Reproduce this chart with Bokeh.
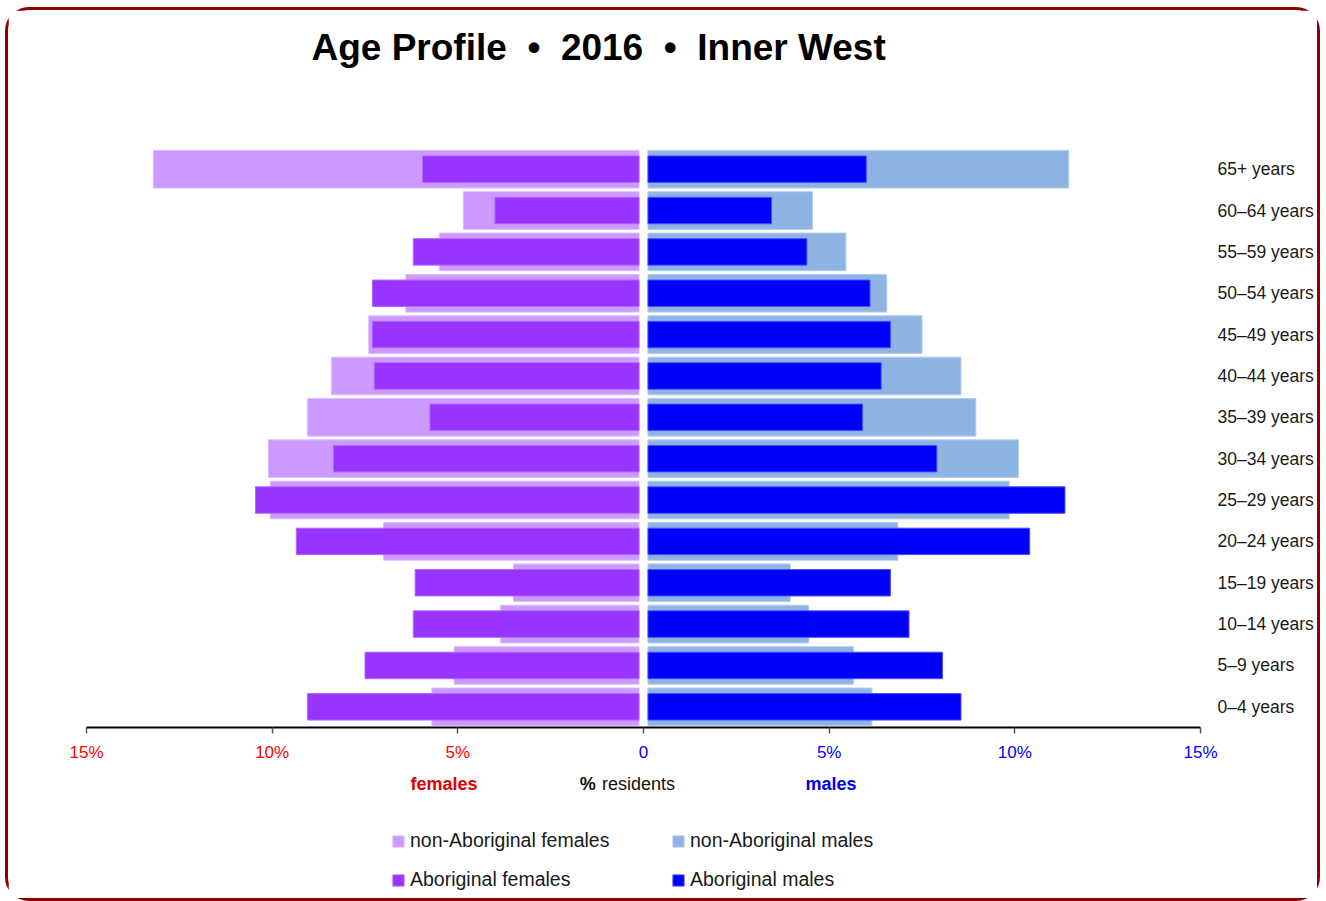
from bokeh.plotting import figure
from bokeh.layouts import column
from bokeh.models import (FactorRange, Range1d, LinearAxis, FixedTicker,
                          Legend, LegendItem, Title)
from bokeh.core.properties import value
from bokeh.embed import file_html
from bokeh.resources import INLINE

# ---------------- data (top row first) ----------------
ages = ["65+ years", "60–64 years", "55–59 years", "50–54 years", "45–49 years",
        "40–44 years", "35–39 years", "30–34 years", "25–29 years", "20–24 years",
        "15–19 years", "10–14 years", "5–9 years", "0–4 years"]
females_non_aboriginal = [13.2, 4.85, 5.5, 6.4, 7.4, 8.4, 9.05, 10.1, 10.05, 7.0, 3.5, 3.85, 5.1, 5.7]
females_aboriginal = [5.95, 4.0, 6.2, 7.3, 7.3, 7.25, 5.75, 8.35, 10.45, 9.35, 6.15, 6.2, 7.5, 9.05]
males_non_aboriginal = [11.45, 4.55, 5.45, 6.55, 7.5, 8.55, 8.95, 10.1, 9.85, 6.85, 3.95, 4.45, 5.65, 6.15]
males_aboriginal = [6.0, 3.45, 4.4, 6.1, 6.65, 6.4, 5.9, 7.9, 11.35, 10.4, 6.65, 7.15, 8.05, 8.55]

female_ticks = [-15, -10, -5]
female_tick_labels = ["15%", "10%", "5%"]
male_ticks = [0, 5, 10, 15]
male_tick_labels = ["0", "5%", "10%", "15%"]

# captions under the axis, at their x positions (in % units)
caption_females_x = -5.37
caption_males_x = 5.05
caption_pct_x = -1.72
caption_residents_x = -1.12

title_text = "Age Profile\u00a0 •\u00a0 2016\u00a0 •\u00a0 Inner West"
legend_labels = ["non-Aboriginal females", "Aboriginal females",
                 "non-Aboriginal males", "Aboriginal males"]

FONT = "'Liberation Sans', Arial, sans-serif"
GAP = 0.12
C_FN, C_FA, C_MN, C_MA = "#CC99FF", "#9933FF", "#8DB4E2", "#0000FF"
L_FN, L_FA, L_MN, L_MA = "#DDBBFF", "#B066FF", "#B3CCEE", "#4D4DFF"

# ================= main chart =================
p = figure(width=1309, height=755,
           x_range=Range1d(-15, 15),
           y_range=FactorRange(factors=ages[::-1]),
           y_axis_location="right",
           output_backend="svg", toolbar_location=None,
           min_border_left=78, min_border_right=117,
           min_border_top=138, min_border_bottom=38,
           title=None)
p.grid.visible = False
p.outline_line_color = None
p.background_fill_color = "white"
p.border_fill_color = "white"

p.hbar(y=ages, left=[-v for v in females_non_aboriginal], right=-GAP, height=0.91,
       fill_color=C_FN, line_color=L_FN, line_width=1)
p.hbar(y=ages, left=GAP, right=males_non_aboriginal, height=0.91,
       fill_color=C_MN, line_color=L_MN, line_width=1)
p.hbar(y=ages, left=[-v for v in females_aboriginal], right=-GAP, height=0.64,
       fill_color=C_FA, line_color=L_FA, line_width=1)
p.hbar(y=ages, left=GAP, right=males_aboriginal, height=0.64,
       fill_color=C_MA, line_color=L_MA, line_width=1)

# right category axis
ya = p.yaxis[0]
ya.axis_line_color = None
ya.major_tick_line_color = None
ya.minor_tick_line_color = None
ya.major_tick_out = 0
ya.major_label_standoff = 17
ya.major_label_text_font = FONT
ya.major_label_text_font_size = "17.5px"
ya.major_label_text_color = "#1a1a1a"

# x axis (female tick labels red)
xa = p.xaxis[0]
xa.ticker = FixedTicker(ticks=female_ticks + male_ticks)
overrides = {t: l for t, l in zip(female_ticks, female_tick_labels)}
overrides.update({t: "" for t in male_ticks})
xa.major_label_overrides = overrides
xa.axis_line_color = "black"
xa.axis_line_width = 2
xa.major_tick_line_color = "#555555"
xa.major_tick_line_width = 1.5
xa.major_tick_out = 6
xa.major_tick_in = 0
xa.minor_tick_line_color = None
xa.major_label_standoff = 9
xa.major_label_text_font = FONT
xa.major_label_text_font_size = "17px"
xa.major_label_text_color = "#FF0000"

# second x axis: male tick labels in blue, overlaid on the same row
xa2 = LinearAxis(ticker=FixedTicker(ticks=male_ticks),
                 major_label_overrides={t: l for t, l in zip(male_ticks, male_tick_labels)},
                 axis_line_color=None, major_tick_line_color=None,
                 minor_tick_line_color=None, major_tick_out=0, major_tick_in=0,
                 major_label_standoff=-22,
                 major_label_text_font=FONT, major_label_text_font_size="17px",
                 major_label_text_color="#0000FF")
p.add_layout(xa2, "below")

# title
spacer = Title(text=" ", text_font_size="10px", standoff=65)
p.add_layout(spacer, "above")
main_title = Title(text=title_text, align="left", offset=225,
                   text_font=FONT, text_font_size="37px", text_font_style="bold",
                   text_color="black", standoff=6)
p.add_layout(main_title, "above")

# ================= captions + legend strip =================
q = figure(width=1309, height=133,
           x_range=p.x_range, y_range=Range1d(0, 133),
           x_axis_type=None, y_axis_type=None,
           output_backend="svg", toolbar_location=None,
           min_border_left=78, min_border_right=117,
           min_border_top=0, min_border_bottom=0, title=None)
q.grid.visible = False
q.outline_line_color = None
q.background_fill_color = "white"
q.border_fill_color = "white"

CAP_Y = 115
q.text(x=[caption_females_x], y=[CAP_Y], text=["females"], text_align="center",
       text_baseline="middle", text_font=value(FONT), text_font_size="18px",
       text_font_style="bold", text_color="#E00000")
q.text(x=[caption_males_x], y=[CAP_Y], text=["males"], text_align="center",
       text_baseline="middle", text_font=value(FONT), text_font_size="18px",
       text_font_style="bold", text_color="#0000EE")
q.text(x=[caption_pct_x], y=[CAP_Y], text=["%"], text_align="left",
       text_baseline="middle", text_font=value(FONT), text_font_size="18px",
       text_font_style="bold", text_color="#111111")
q.text(x=[caption_residents_x], y=[CAP_Y], text=["residents"], text_align="left",
       text_baseline="middle", text_font=value(FONT), text_font_size="18px",
       text_color="#111111")

# legend swatches: one off-screen bar per series, only used for the legend
g_fn = q.hbar(y=[-50], left=[0], right=[1], height=1, fill_color=C_FN, line_color=L_FN)
g_fa = q.hbar(y=[-50], left=[0], right=[1], height=1, fill_color=C_FA, line_color=L_FA)
g_mn = q.hbar(y=[-50], left=[0], right=[1], height=1, fill_color=C_MN, line_color=L_MN)
g_ma = q.hbar(y=[-50], left=[0], right=[1], height=1, fill_color=C_MA, line_color=L_MA)

legend = Legend(items=[LegendItem(label=legend_labels[0], renderers=[g_fn]),
                       LegendItem(label=legend_labels[1], renderers=[g_fa]),
                       LegendItem(label=legend_labels[2], renderers=[g_mn]),
                       LegendItem(label=legend_labels[3], renderers=[g_ma])],
                ncols=2, location=(305, 7),
                glyph_width=14, glyph_height=14, label_standoff=5,
                label_width=245, label_height=20, spacing=16,
                padding=0, margin=0, border_line_color=None,
                background_fill_alpha=0,
                label_text_font=FONT, label_text_font_size="19.5px",
                label_text_color="#1a1a1a")
q.add_layout(legend, "center")

layout = column(p, q, spacing=0,
                styles={"border": "3px solid #8B0000", "border-radius": "24px",
                        "margin": "7px 0 0 5px", "box-sizing": "content-box",
                        "background-color": "white"})

open("out.html", "w").write(file_html(layout, INLINE))
